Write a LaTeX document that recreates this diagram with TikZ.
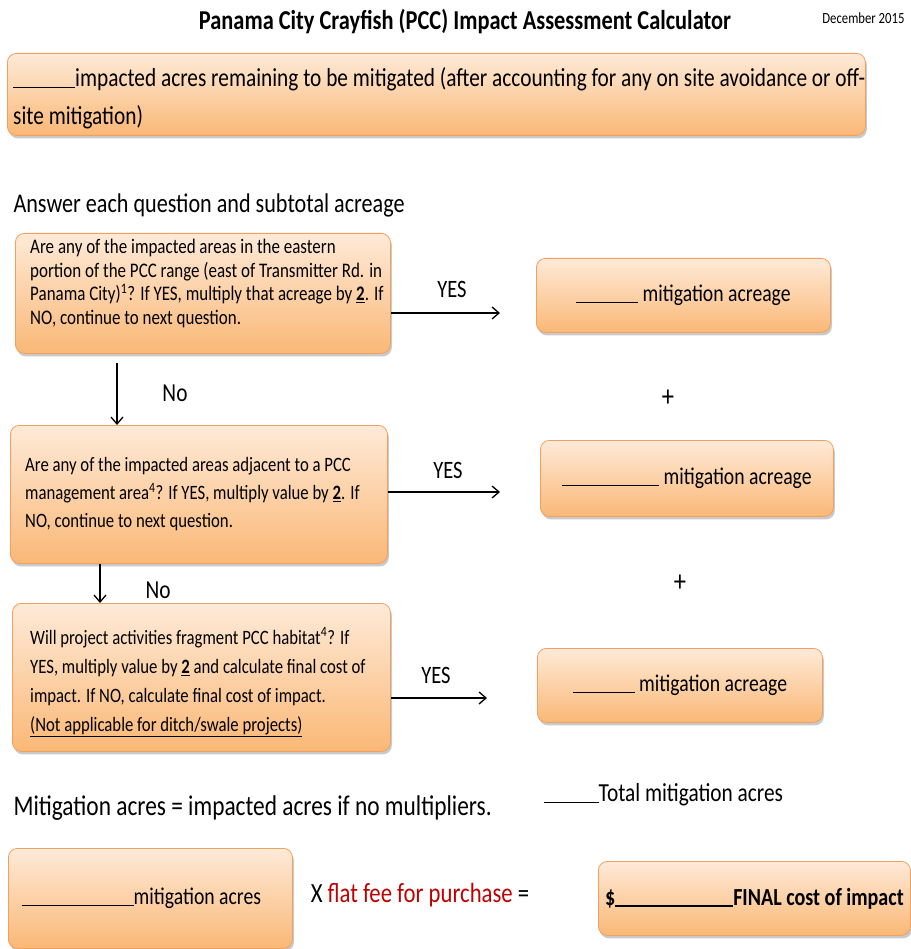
\documentclass[tikz,border=0pt]{standalone}
\usepackage{fontspec}
\setmainfont{Carlito}[FakeStretch=0.82]
\usetikzlibrary{shadows,arrows.meta}
\definecolor{boxedge}{RGB}{242,160,95}
\definecolor{boxtop}{RGB}{254,234,216}
\definecolor{boxbottom}{RGB}{250,184,118}
\definecolor{feered}{RGB}{192,0,0}
\newcommand{\blank}[1]{\rule[-1.5pt]{#1pt}{1.1pt}}
\newcommand{\fs}[2]{\fontsize{#1}{#2}\selectfont}
\newcommand{\tightspace}{\spaceskip=0pt\xspaceskip=0pt\relax}

\begin{document}
\begin{tikzpicture}[x=1pt,y=-1pt,
    pbox/.style={draw=boxedge,line width=0.8pt,rounded corners=9pt,top color=boxtop,bottom color=boxbottom,
      drop shadow={opacity=0.35,shadow xshift=1.5pt,shadow yshift=-3pt,fill=black!60},anchor=north west,inner sep=0pt},
    qtext/.style={align=left,anchor=west,inner sep=0pt,execute at begin node=\tightspace},
    lbl/.style={inner sep=0pt,font=\fs{25}{30}},
    flow/.style={-{Straight Barb[length=7pt,width=12pt]},line width=1.3pt}]
\useasboundingbox (0,0) rectangle (910,949);

% heading
\node[font=\fs{27.3}{32}\bfseries] (title) at (465,22) {Panama City Crayfish (PCC) Impact Assessment Calculator};
\node[anchor=east,font=\fs{15.5}{19}] (date) at (908,18) {December 2015};
\node[pbox,minimum width=858,minimum height=82] (remain) at (7,53) {};
\node[qtext,font=\fs{26}{38}] (remaintext) at ([xshift=6pt,yshift=-4pt]remain.west)
  {\blank{62}impacted acres remaining to be mitigated (after accounting for any on site avoidance or off-\\site mitigation)};
\node[anchor=west,font=\fs{27}{32}] (answer) at (10,205) {Answer each question and subtotal acreage};

% questions
\node[pbox,minimum width=375,minimum height=120] (q1) at (15,233) {};
\node[pbox,minimum width=377,minimum height=138] (q2) at (10,425) {};
\node[pbox,minimum width=378,minimum height=148] (q3) at (12,603) {};
\node[qtext,font=\fs{20.7}{23.5}] (q1text) at ([xshift=15pt,yshift=10pt]q1.west)
  {Are any of the impacted areas in the eastern\\portion of the PCC range (east of Transmitter Rd. in\\Panama City)\textsuperscript{1}? If YES, multiply that acreage by \textbf{\underline{2}}. If\\NO, continue to next question.};
\node[qtext,font=\fs{20.4}{28}] (q2text) at ([xshift=15pt]q2.west)
  {Are any of the impacted areas adjacent to a PCC\\management area\textsuperscript{4}? If YES, multiply value by \textbf{\underline{2}}. If\\NO, continue to next question.};
\node[qtext,font=\fs{20.4}{29}] (q3text) at ([xshift=18pt,yshift=-5pt]q3.west)
  {Will project activities fragment PCC habitat\textsuperscript{4}? If\\YES, multiply value by \textbf{\underline{2}} and calculate final cost of\\impact. If NO, calculate final cost of impact.\\\underline{(Not applicable for ditch/swale projects)}};

% subtotals
\foreach \k/\x/\y/\w/\h/\b in {1/536/258/294/74/62,2/540/440/293/76/97,3/537/648/285/74/62}
  \node[pbox,minimum width=\w,minimum height=\h,font=\fs{24}{28}] (r\k) at (\x,\y) {\blank{\b}\ mitigation acreage};
\node[font=\fs{30}{34}] (plus1) at (668,398) {+};
\node[font=\fs{30}{34}] (plus2) at (680,583) {+};

% yes arrows
\coordinate (yes1end) at (500,313);
\coordinate (yes2end) at (500,492);
\coordinate (yes3end) at (487,698);
\draw[flow] (q1.east |- yes1end) -- (yes1end);
\draw[flow] (q2.east |- yes2end) -- (yes2end);
\draw[flow] (q3.east |- yes3end) -- (yes3end);
\node[lbl] (yes1) at (452,289) {YES};
\node[lbl] (yes2) at (448,470) {YES};
\node[lbl] (yes3) at (436,675) {YES};

% no arrows
\coordinate (down1) at (117,0);
\coordinate (down2) at (100,0);
\draw[flow] ([yshift=-9pt]q1.south -| down1) -- (q2.north -| down1);
\draw[flow] (q2.south -| down2) -- (q3.north -| down2);
\node[lbl,font=\fs{26}{30}] (no1) at (175,393) {No};
\node[lbl,font=\fs{26}{30}] (no2) at (158,590) {No};

% totals
\node[anchor=west,font=\fs{28.5}{32}] (note) at (10,808) {Mitigation acres = impacted acres if no multipliers.};
\node[anchor=west,font=\fs{26}{30}] (total) at (540,795) {\blank{55}Total mitigation acres};
\node[pbox,minimum width=284,minimum height=100,font=\fs{24}{28}] (acres) at (8,848) {\blank{112}mitigation acres\kern18pt};
\node[font=\fs{27.7}{32}] (fee) at (420,895) {X \textcolor{feered}{flat fee for purchase} =};
\node[pbox,minimum width=312,minimum height=74,font=\fs{24.5}{28}\bfseries] (cost) at (598,861) {\$\blank{118}FINAL cost of impact};
\end{tikzpicture}
\end{document}
